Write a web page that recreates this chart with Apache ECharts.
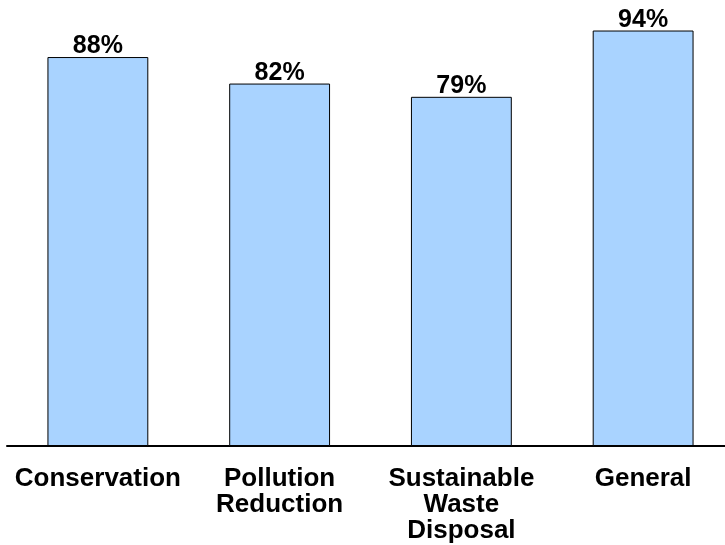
<!DOCTYPE html>
<html>
<head>
<meta charset="utf-8">
<script src="https://cdn.jsdelivr.net/npm/echarts@6/dist/echarts.min.js"></script>
<style>
  html, body { margin: 0; padding: 0; background: #ffffff; }
  #chart { width: 725px; height: 545px; }
</style>
</head>
<body>
<div id="chart"></div>
<script>
// Share of respondents by topic area
const categories = ['Conservation', 'Pollution\nReduction', 'Sustainable\nWaste\nDisposal', 'General'];
const percentValues = [88, 82, 79, 94];

const chart = echarts.init(document.getElementById('chart'), null, { renderer: 'canvas' });

chart.setOption({
  animation: false,
  backgroundColor: '#ffffff',
  grid: { left: 7, width: 727, top: 4, bottom: 99, containLabel: false, outerBoundsMode: 'none' },
  xAxis: {
    type: 'category',
    data: categories,
    axisLine: { show: true, lineStyle: { color: '#000000', width: 2 } },
    axisTick: { show: false },
    axisLabel: {
      interval: 0,
      margin: 20,
      color: '#000000',
      fontFamily: 'Liberation Sans, Arial, sans-serif',
      fontWeight: 'bold',
      fontSize: 26,
      lineHeight: 26,
      align: 'center'
    }
  },
  yAxis: {
    type: 'value',
    min: 0,
    max: 100,
    show: false,
    splitLine: { show: false }
  },
  series: [{
    type: 'bar',
    data: percentValues,
    barWidth: '55.5%',
    itemStyle: { color: '#a9d3ff', borderColor: '#000000', borderWidth: 1 },
    label: {
      show: true,
      position: 'top',
      distance: -2,
      formatter: '{c}%',
      color: '#000000',
      fontFamily: 'Liberation Sans, Arial, sans-serif',
      fontWeight: 'bold',
      fontSize: 25
    }
  }]
});
</script>
</body>
</html>
